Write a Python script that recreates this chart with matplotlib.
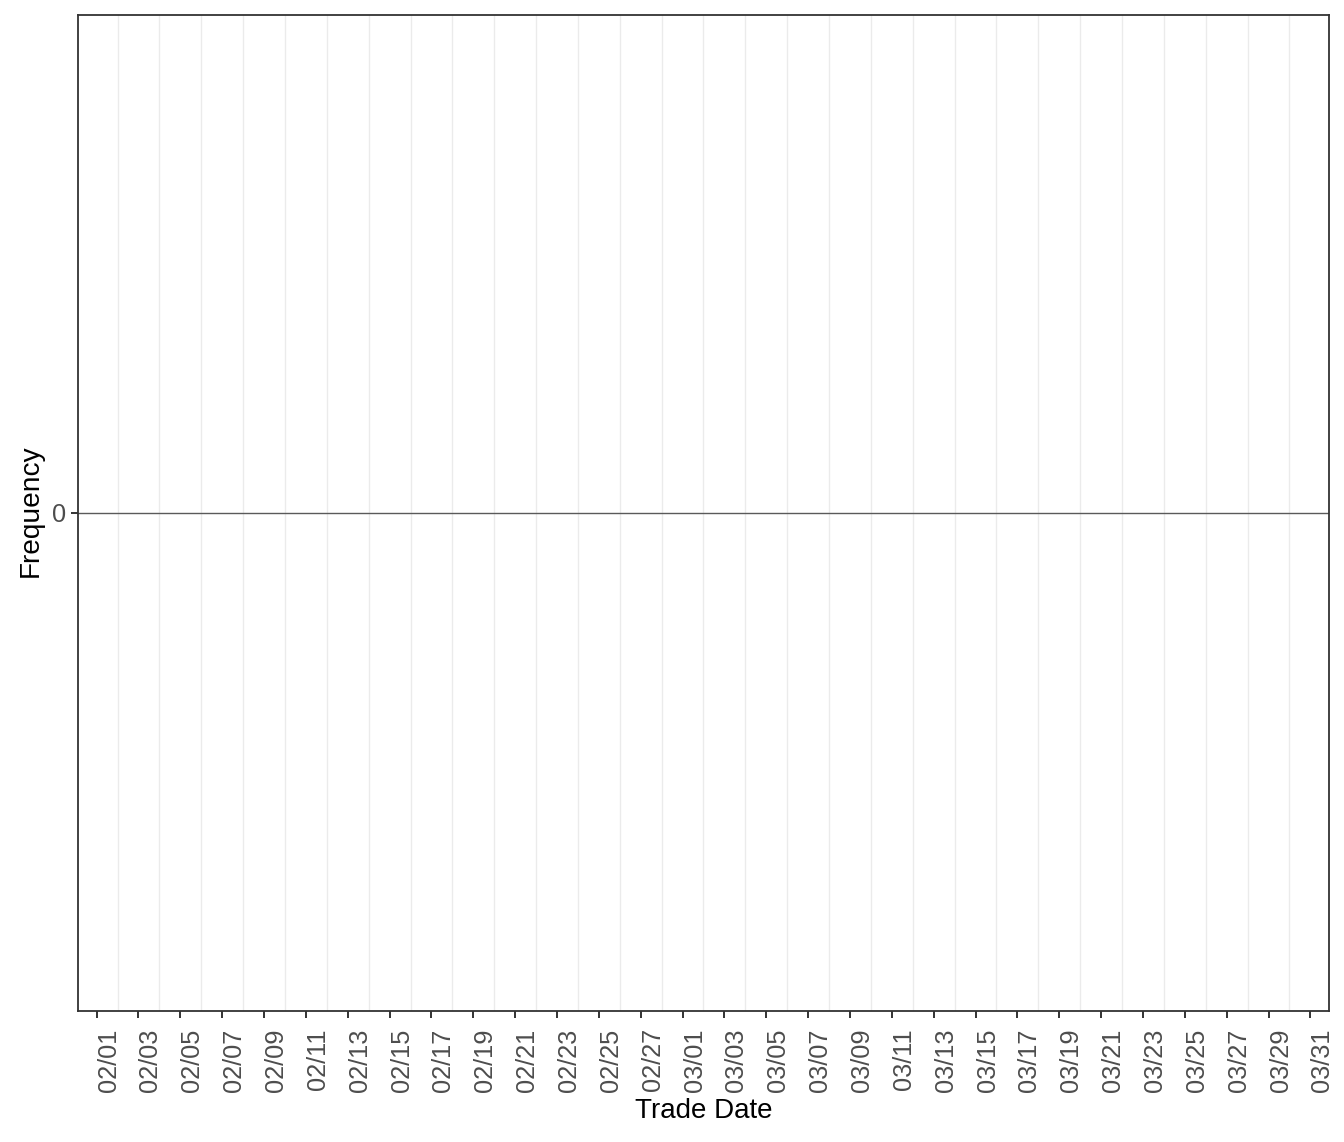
import matplotlib
matplotlib.use("Agg")
import matplotlib.pyplot as plt
import pandas as pd

# Data (the reference chart shows no bars: the series is empty)
trade_dates = []
frequency = []
start_date = "2021-02-01"
end_date = "2021-03-31"
y_ticks = [0]
x_label = "Trade Date"
y_label = "Frequency"

plt.rcParams['font.family'] = ['Liberation Sans', 'DejaVu Sans']

W, H = 1344, 1142
fig = plt.figure(figsize=(W / 100, H / 100), dpi=100)
L, R, T, B = 78, 1329, 15, 1011
ax = fig.add_axes([L / W, 1 - B / H, (R - L) / W, (B - T) / H])

if len(trade_dates):
    ax.bar(pd.to_datetime(trade_dates), frequency, color="grey")

major = pd.date_range(start_date, end_date, freq="2D")
minor = major[:-1] + pd.Timedelta(days=1)

ax.axhline(0, color="#5a5a5a", lw=1.0, zorder=2)

ax.set_xticks(major)
ax.set_xticklabels([d.strftime("%m/%d") for d in major], rotation=90,
                   rotation_mode="anchor", ha="right", va="top")
ax.set_xticks(minor, minor=True)
ax.tick_params(axis="x", which="minor", length=0)
ax.grid(which="minor", axis="x", color="#ebebeb", lw=1.0, zorder=0)
ax.set_axisbelow(True)

pad = pd.Timedelta(days=0.89)
ax.set_xlim(pd.Timestamp(start_date) - pad, pd.Timestamp(end_date) + pad)
ax.set_ylim(-1, 1)
ax.set_yticks(y_ticks)
ax.set_yticklabels([str(v) for v in y_ticks])

ax.tick_params(axis="both", which="major", length=5, width=1.4, color="#333333",
               labelsize=18.3, labelcolor="#4d4d4d")
ax.tick_params(axis="x", which="major", pad=7.5)
ax.tick_params(axis="y", which="major", pad=3.5)
for s in ax.spines.values():
    s.set_color("#333333")
    s.set_linewidth(1.3)

ax.set_xlabel(x_label, fontsize=20, color="black")
ax.xaxis.label.set_va("baseline")
ax.xaxis.set_label_coords(0.5, (B - 1118) / (B - T))

ax.set_ylabel(y_label, fontsize=20.2, color="black", rotation=90,
              rotation_mode="anchor", ha="center", va="baseline")
ax.yaxis.set_label_coords((38 - L) / (R - L), (B - 511) / (B - T))

fig.savefig("out.png", dpi=100)
